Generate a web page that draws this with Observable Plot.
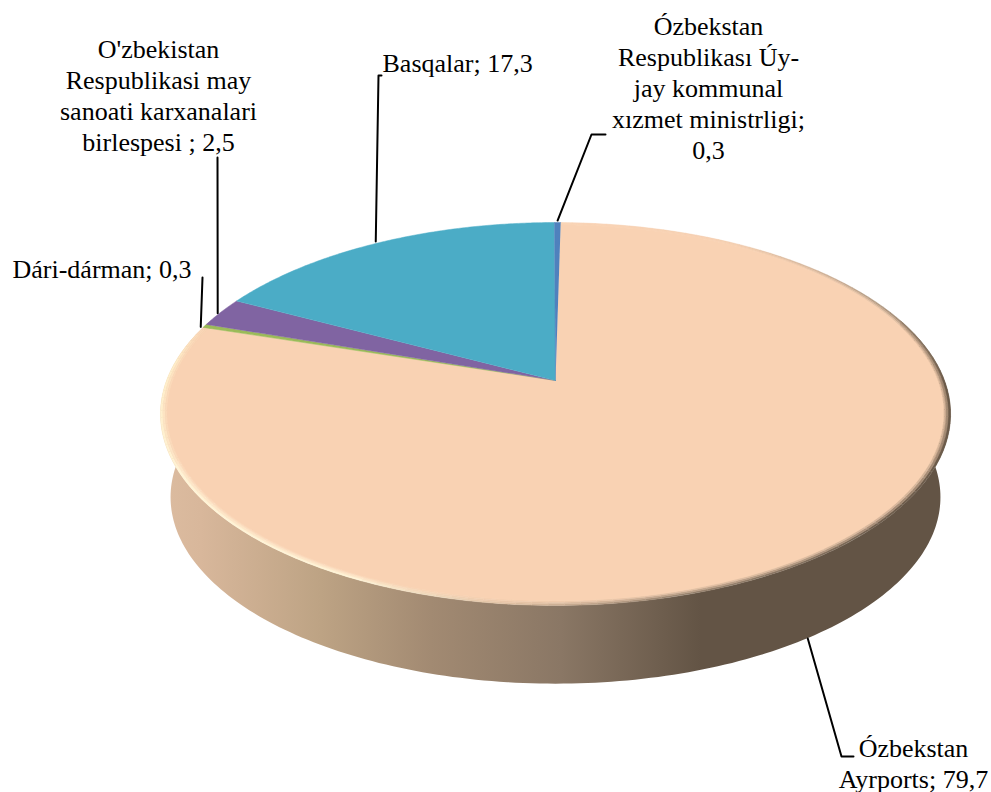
<!DOCTYPE html>
<html><head><meta charset="utf-8">
<style>html,body{margin:0;padding:0;background:#fff}svg{display:block}</style>
<script src="https://cdn.jsdelivr.net/npm/d3@7"></script>
<script src="https://cdn.jsdelivr.net/npm/@observablehq/plot@0.6"></script>
</head><body><script>
// chart values, clockwise from the top of the pie
const categories = ["Ózbekstan Ayrports","Dári-dárman","O'zbekistan Respublikasi may sanoati karxanalari birlespesi","Basqalar","Ózbekstan Respublikası Úy-jay kommunal xızmet ministrligi"];
const values = [79.7,0.3,2.5,17.3,0.3];
const labels = ["Ózbekstan\nAyrports; 79,7","Dári-dárman; 0,3","O'zbekistan\nRespublikasi may\nsanoati karxanalari\nbirlespesi ; 2,5","Basqalar; 17,3","Ózbekstan\nRespublikası Úy-\njay kommunal\nxızmet ministrligi;\n0,3"];
const sliceColors = ["#f9d2b3","#9bbb59","#8064a2","#4bacc6","#4f81bd"];

// layout of labels and leader lines (page units)
const labelX = [913,12,158,382,708];
const labelY = [734,255,35,49,12];
const labelAnchor = ["middle","start","middle","start","middle"];
const elbows = [[[841,756],[853,756]],[[202,277]],[[217,157]],[[378,75],[381,75]],[[591,134],[605,134]]];
const leaderOnBase = [true,false,false,false,false];
const leaderNudge = [[-6,3],[-4,1],[-3,1],[-4,-1],[0,-2]];

// view of the disc: perspective ellipse for the top face and the base
const topView = {x0:555,y0:380,a:389,b:185.6,k:0.175};
const baseView = {x0:555,y0:464,a:379,b:180.8,k:0.175};
const startDeg = 0.9;
const project = (v,deg,r=1)=>{const t=deg*Math.PI/180,u=r*Math.sin(t),w=r*Math.cos(t),d=1+v.k*w;return [v.x0+v.a*u/d,v.y0-v.b*w/d];};

// shading stops
const sideX = [160,200,320,430,560,700,950];
const sideC = ["#dcbca0","#d8b79b","#bda384","#a28a72","#8a7765","#635445","#635445"];
const rimDeg = [0,30,60,90,130,165,185,205,240,275,288,360];
const rimC = ["#f9d2b3","#f3ccad","#b59c84","#6b5a49","#6f5e4d","#9a8570","#e0c0a2","#fff3d5","#fff3d5","#ffedc8","#f9d2b3","#f9d2b3"];
const rimColor = d3.scaleLinear().domain(rimDeg).range(rimC).interpolate(d3.interpolateRgb);

const total = d3.sum(values);
let acc = startDeg;
const slices = values.map((v,i)=>{const s=acc,e=acc+v/total*360;acc=e;return {i,s,e,mid:(s+e)/2,color:sliceColors[i]};});

const polys = [];
const add = (k,c,pts)=>pts.forEach(p=>polys.push({k,c,x:p[0],y:p[1]}));

// side wall outline
const wall=[], wallBack=[];
for(let d=70;d<=290;d+=1){wall.push(project(topView,d));wallBack.unshift(project(baseView,d));}
const wallRows=[...wall,...wallBack].map(p=>({x:p[0],y:p[1]}));

// bevelled rim bands
const rings=[[1,0.0],[0.994,0.4],[0.988,0.75]];
const ringStep=2, ringW=0.006;
rings.forEach(([r,mix],ri)=>{
  for(let d=slices[0].s;d<slices[0].e;d+=ringStep){
    const e=Math.min(d+ringStep,slices[0].e);
    const c=d3.interpolateRgb(rimColor(d%360),sliceColors[0])(mix);
    add(`rim${ri}-${d}`,c,[project(topView,d,r),project(topView,e,r),project(topView,e,r-ringW),project(topView,d,r-ringW)]);
  }
});
// top-face slices
slices.forEach(s=>{
  const r=s.i===0?0.983:1, pts=[[topView.x0,topView.y0]];
  for(let d=s.s;d<s.e;d+=0.5)pts.push(project(topView,d,r));
  pts.push(project(topView,s.e,r));
  add("slice"+s.i,s.color,pts);
});

// leaders
const leaders=[];
slices.forEach(s=>{
  const st=project(leaderOnBase[s.i]?baseView:topView,s.mid);
  const first=[st[0]+leaderNudge[s.i][0],st[1]+leaderNudge[s.i][1]];
  [first,...elbows[s.i]].forEach(p=>leaders.push({k:s.i,x:p[0],y:p[1]}));
});

const textRows = labels.map((t,i)=>({t,x:labelX[i],y:labelY[i],a:labelAnchor[i]}));

const chart = Plot.plot({
  width:991,height:792,margin:0,
  x:{domain:[0,991],range:[0,991],axis:null},
  y:{domain:[0,792],range:[0,792],axis:null},
  style:{background:"#fff"},
  marks:[
    Plot.line(wallRows,{x:"x",y:"y",fill:"url(#sideGrad)",stroke:"none",curve:"linear"}),
    Plot.line(polys,{x:"x",y:"y",z:"k",fill:"c",stroke:"c",strokeWidth:0.5,curve:"linear"}),
    Plot.line(leaders,{x:"x",y:"y",z:"k",stroke:"#000",strokeWidth:2,curve:"linear"}),
    ...["start","middle"].map(a=>Plot.text(textRows.filter(d=>d.a===a),{x:"x",y:"y",text:"t",textAnchor:a,lineAnchor:"top",lineHeight:31/26,fontSize:26,fontFamily:"Liberation Serif",fill:"#000"}))
  ]
});
const xs = chart.scale("x");
const grad = d3.select(chart).insert("defs",":first-child").append("linearGradient")
  .attr("id","sideGrad").attr("gradientUnits","userSpaceOnUse")
  .attr("x1",xs.apply(sideX[0])).attr("x2",xs.apply(sideX[sideX.length-1])).attr("y1",0).attr("y2",0);
sideX.forEach((x,i)=>grad.append("stop").attr("offset",(x-sideX[0])/(sideX[sideX.length-1]-sideX[0])).attr("stop-color",sideC[i]));
document.body.appendChild(chart);
</script></body></html>
